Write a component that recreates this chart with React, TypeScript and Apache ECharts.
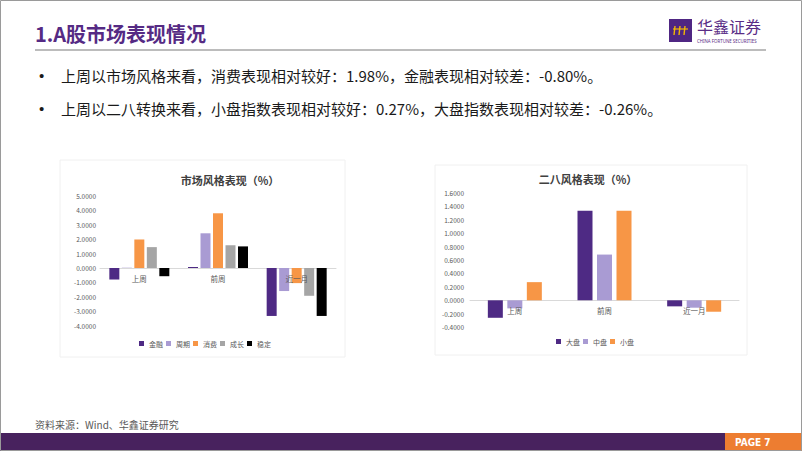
import React, { useEffect, useRef } from "react";
import * as echarts from "echarts";

const categories = ["上周", "前周", "近一月"];

const styleNames = ["金融", "周期", "消费", "成长", "稳定"];
const styleValues: number[][] = [
  [-0.8, 0.07, -3.33],
  [0.02, 2.41, -1.6],
  [1.98, 3.8, -1.05],
  [1.45, 1.58, -1.93],
  [-0.57, 1.5, -3.33],
];
const styleColors = ["#4E2A84", "#A99BD3", "#F79646", "#A5A5A5", "#000000"];

const sizeNames = ["大盘", "中盘", "小盘"];
const sizeValues: number[][] = [
  [-0.26, 1.33, -0.09],
  [-0.12, 0.68, -0.11],
  [0.27, 1.33, -0.17],
];
const sizeColors = ["#4E2A84", "#A99BD3", "#F79646"];

const bullets = [
  "上周以市场风格来看，消费表现相对较好：1.98%，金融表现相对较差：-0.80%。",
  "上周以二八转换来看，小盘指数表现相对较好：0.27%，大盘指数表现相对较差：-0.26%。",
];

const FONT = "'Noto Sans CJK SC', 'Noto Sans', sans-serif";
const PURPLE = "#552A84";

export default function App() {
  const ref = useRef<HTMLDivElement>(null);
  useEffect(() => {
    if (!ref.current) return;
    const chart = echarts.init(ref.current, undefined, { renderer: "svg" });
    const fmt = (v: number) => v.toFixed(4);
    const axisLabelY = { fontSize: 6.5, color: "#595959", formatter: fmt };
    const series: any[] = [];
    styleNames.forEach((n, i) => {
      series.push({
        type: "bar",
        name: n,
        xAxisIndex: 0,
        yAxisIndex: 0,
        data: styleValues[i],
        barWidth: 10,
        barGap: "25%",
        itemStyle: { color: styleColors[i] },
      });
    });
    sizeNames.forEach((n, i) => {
      series.push({
        type: "bar",
        name: n,
        xAxisIndex: 1,
        yAxisIndex: 1,
        data: sizeValues[i],
        barWidth: 15,
        barGap: "30%",
        itemStyle: { color: sizeColors[i] },
      });
    });
    // category labels drawn next to the zero line (Excel-style)
    [0, 1].forEach((ax) => {
      series.push({
        type: "custom",
        name: "cat" + ax,
        xAxisIndex: ax,
        yAxisIndex: ax,
        silent: true,
        z: 20,
        data: categories.map((c, i) => [i, 0]),
        renderItem: (params: any, api: any) => {
          const p = api.coord([api.value(0), 0]);
          return {
            type: "text",
            x: p[0],
            y: p[1] + 10,
            style: {
              text: categories[params.dataIndex],
              fill: "#595959",
              fontSize: 7.5,
              fontFamily: FONT,
              textAlign: "center",
              textVerticalAlign: "middle",
            },
          };
        },
      });
    });
    const xAxisCommon = {
      type: "category",
      data: categories,
      axisLine: { onZero: true, lineStyle: { color: "#D9D9D9", width: 1 } },
      axisTick: { show: false },
      axisLabel: { show: false },
    };
    const legendCommon = {
      icon: "rect",
      itemWidth: 5,
      itemHeight: 5,
      itemGap: 3,
      padding: 0,
      textStyle: { fontSize: 7, color: "#595959", fontFamily: FONT },
    };
    chart.setOption({
      animation: false,
      textStyle: { fontFamily: FONT },
      grid: [
        { left: 100, top: 196, width: 236, height: 129.6 },
        { left: 470, top: 192.7, width: 269, height: 134.5 },
      ],
      xAxis: [
        { ...xAxisCommon, gridIndex: 0 },
        { ...xAxisCommon, gridIndex: 1 },
      ],
      yAxis: [
        {
          type: "value",
          gridIndex: 0,
          min: -4,
          max: 5,
          interval: 1,
          axisLabel: { ...axisLabelY, margin: 4 },
          splitLine: { show: false },
          axisLine: { show: false },
          axisTick: { show: false },
        },
        {
          type: "value",
          gridIndex: 1,
          min: -0.4,
          max: 1.6,
          interval: 0.2,
          axisLabel: { ...axisLabelY, margin: 6 },
          splitLine: { show: false },
          axisLine: { show: false },
          axisTick: { show: false },
        },
      ],
      legend: [
        { ...legendCommon, data: styleNames, left: 139, top: 340 },
        { ...legendCommon, data: sizeNames, left: 556, top: 338 },
      ],
      series,
      graphic: [
        {
          type: "rect",
          shape: { x: 0.5, y: 0.5, width: 801, height: 450 },
          style: { fill: "none", stroke: "#9A9A9A", lineWidth: 1 },
          z: 100,
        },
        {
          type: "text",
          x: 35,
          y: 33,
          style: {
            text: "1.A股市场表现情况",
            fill: PURPLE,
            fontSize: 20,
            fontWeight: "bold",
            fontFamily: FONT,
            textVerticalAlign: "middle",
          },
        },
        {
          type: "line",
          shape: { x1: 35, y1: 50, x2: 766, y2: 50 },
          style: { stroke: "#A6A6A6", lineWidth: 1.5 },
        },
        {
          type: "rect",
          shape: { x: 669, y: 19, width: 23, height: 23 },
          style: { fill: "#4F2683" },
        },
        {
          type: "polyline",
          shape: { points: [[673, 29], [688, 29]] },
          style: { stroke: "#F2B705", lineWidth: 1.2 },
        },
        {
          type: "polyline",
          shape: { points: [[675, 26], [674, 35]] },
          style: { stroke: "#F2B705", lineWidth: 1.4 },
        },
        {
          type: "polyline",
          shape: { points: [[680, 26], [679, 35]] },
          style: { stroke: "#F2B705", lineWidth: 1.4 },
        },
        {
          type: "polyline",
          shape: { points: [[685, 26], [684, 35]] },
          style: { stroke: "#F2B705", lineWidth: 1.4 },
        },
        {
          type: "text",
          x: 697,
          y: 26,
          style: {
            text: "华鑫证券",
            fill: "#5A2D86",
            fontSize: 16,
            fontFamily: FONT,
            textVerticalAlign: "middle",
          },
        },
        {
          type: "text",
          x: 697,
          y: 41,
          style: {
            text: "CHINA FORTUNE SECURITIES",
            fill: "#5A2D86",
            fontSize: 4.4,
            fontFamily: "'Noto Sans', sans-serif",
            textVerticalAlign: "middle",
          },
        },
        ...bullets.flatMap((t, i) => [
          {
            type: "text",
            x: 39,
            y: 75 + i * 33,
            style: {
              text: "•",
              fill: "#1A1A1A",
              fontSize: 15,
              fontFamily: "'Liberation Sans', Arial, sans-serif",
              textVerticalAlign: "middle",
            },
          },
          {
            type: "text",
            x: 61,
            y: 75 + i * 33,
            style: {
              text: t,
              fill: "#1A1A1A",
              fontSize: 15,
              fontFamily: FONT,
              textVerticalAlign: "middle",
            },
          },
        ]),
        {
          type: "rect",
          shape: { x: 60, y: 160, width: 285, height: 197 },
          style: { fill: "none", stroke: "#F0F0F0", lineWidth: 1 },
        },
        {
          type: "rect",
          shape: { x: 435, y: 165, width: 312, height: 190 },
          style: { fill: "none", stroke: "#F0F0F0", lineWidth: 1 },
        },
        {
          type: "text",
          x: 230,
          y: 180,
          style: {
            text: "市场风格表现（%）",
            fill: "#404040",
            fontSize: 11,
            fontWeight: "bold",
            fontFamily: FONT,
            textAlign: "center",
            textVerticalAlign: "middle",
          },
        },
        {
          type: "text",
          x: 588,
          y: 179,
          style: {
            text: "二八风格表现（%）",
            fill: "#404040",
            fontSize: 11,
            fontWeight: "bold",
            fontFamily: FONT,
            textAlign: "center",
            textVerticalAlign: "middle",
          },
        },
        {
          type: "text",
          x: 35,
          y: 424,
          style: {
            text: "资料来源：Wind、华鑫证券研究",
            fill: "#595959",
            fontSize: 10,
            fontFamily: FONT,
            textVerticalAlign: "middle",
          },
        },
        {
          type: "rect",
          shape: { x: 0, y: 433, width: 725, height: 18 },
          style: { fill: "#48225E" },
        },
        {
          type: "rect",
          shape: { x: 725, y: 433, width: 77, height: 18 },
          style: { fill: "#ED7D31" },
        },
        {
          type: "text",
          x: 735,
          y: 442,
          style: {
            text: "PAGE 7",
            fill: "#FFFFFF",
            fontSize: 10,
            fontWeight: "bold",
            fontFamily: "'DejaVu Sans Condensed', 'Liberation Sans Narrow', sans-serif",
            textVerticalAlign: "middle",
          },
        },
      ],
    });
    return () => chart.dispose();
  }, []);
  return (
    <div
      ref={ref}
      style={{ position: "fixed", left: 0, top: 0, width: 802, height: 451, background: "#fff" }}
    />
  );
}
